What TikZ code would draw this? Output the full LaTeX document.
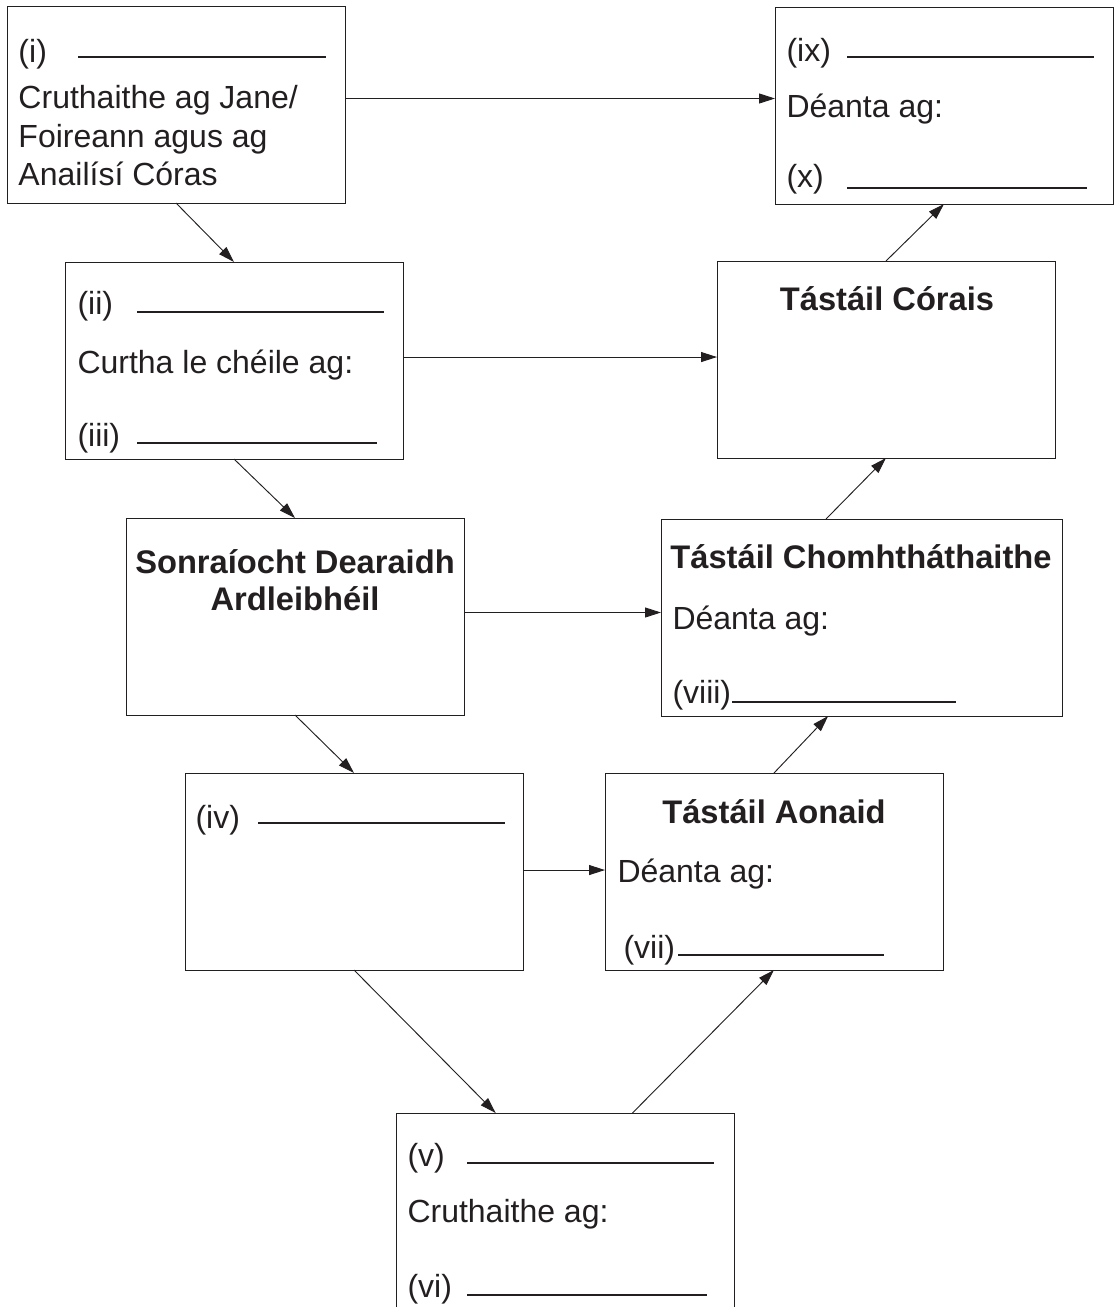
\documentclass[tikz,border=0pt]{standalone}
\usepackage{fontspec}
\setmainfont{Liberation Sans}
\usetikzlibrary{arrows.meta}
\definecolor{ink}{RGB}{35,31,32}

\begin{document}
\begin{tikzpicture}[x=0.75pt,y=-0.75pt,>={Triangle[length=12pt,width=7.5pt]},
                    line width=0.75pt,draw=ink,
                    box node/.style={rectangle,draw,anchor=north west,minimum width=253.5pt,
                                     minimum height=147.75pt,inner sep=0pt,outer sep=0pt},
                    txt/.style={anchor=base west,inner sep=0pt,text=ink,font=\fontsize{24}{28}\selectfont},
                    head/.style={anchor=base,inner sep=0pt,text=ink,font=\fontsize{24.5}{29}\selectfont\bfseries},
                    blank/.style={line width=0.9pt},
                    flow/.style={->,line width=0.7pt}]
  \clip (0,0) rectangle (1117,1307);
  \node[box node] (1) at (7,6) {};
  \node[box node] (2) at (65,262) {};
  \node[box node] (3) at (126,518) {};
  \node[box node] (4) at (185,773) {};
  \node[box node,minimum height=200pt] (5) at (396,1113) {};
  \node[box node] (6) at (605,773) {};
  \node[box node,minimum width=300.75pt] (7) at (661,519) {};
  \node[box node] (8) at (717,261) {};
  \node[box node] (9) at (775,7) {};
  % texts in the boxes
  \node[txt] (1a) at (18,62) {(i)};
  \draw[blank] (78,57) -- (326,57);
  \node[txt] (1b) at (18,108) {Cruthaithe ag Jane/};
  \node[txt] (1c) at (18,147) {Foireann agus ag};
  \node[txt] (1d) at (18,185) {Anailísí Córas};
  \node[txt] (2a) at (77,314) {(ii)};
  \draw[blank] (137,312) -- (384,312);
  \node[txt] (2b) at (77,373) {Curtha le chéile ag:};
  \node[txt] (2c) at (77,446) {(iii)};
  \draw[blank] (137,443) -- (377,443);
  \node[head] (3a) at (295,573) {Sonraíocht Dearaidh};
  \node[head] (3b) at (295,610) {Ardleibhéil};
  \node[txt] (4a) at (195,828) {(iv)};
  \draw[blank] (258,823) -- (505,823);
  \node[txt] (5a) at (407,1166) {(v)};
  \draw[blank] (467,1163) -- (714,1163);
  \node[txt] (5b) at (407,1222) {Cruthaithe ag:};
  \node[txt] (5c) at (407,1297) {(vi)};
  \draw[blank] (467,1295) -- (707,1295);
  \node[head] (6a) at (774,823) {Tástáil Aonaid};
  \node[txt] (6b) at (617,882) {Déanta ag:};
  \node[txt] (6c) at (623,958) {(vii)};
  \draw[blank] (678,955) -- (884,955);
  \node[head] (7a) at (861,568) {Tástáil Chomhtháthaithe};
  \node[txt] (7b) at (672,629) {Déanta ag:};
  \node[txt] (7c) at (672,703) {(viii)};
  \draw[blank] (732,702) -- (956,702);
  \node[head] (8a) at (887,310) {Tástáil Córais};
  \node[txt] (9a) at (786,61) {(ix)};
  \draw[blank] (847,57) -- (1094,57);
  \node[txt] (9b) at (786,117) {Déanta ag:};
  \node[txt] (9c) at (786,187) {(x)};
  \draw[blank] (847,188) -- (1087,188);
  % connectors
  \draw[flow] (1.south) -- (2.north);
  \draw[flow] (2.south) -- (3.north);
  \draw[flow] (3.south) -- (4.north);
  \draw[flow] (4.south) -- ([xshift=-52pt]5.north);
  \draw[flow] ([xshift=50.6pt]5.north) -- (6.south);
  \draw[flow] (6.north) -- ([xshift=-25pt]7.south);
  \draw[flow] ([xshift=-26.6pt]7.north) -- (8.south);
  \draw[flow] (8.north) -- (9.south);
  \draw[flow] ([yshift=4.5pt]1.east) coordinate (p1) -- (p1 -| 9.west);
  \draw[flow] ([yshift=2.6pt]2.east) coordinate (p2) -- (p2 -| 8.west);
  \draw[flow] ([yshift=3pt]3.east) coordinate (p3) -- (p3 -| 7.west);
  \draw[flow] ([yshift=1.1pt]4.east) coordinate (p4) -- (p4 -| 6.west);
\end{tikzpicture}
\end{document}
